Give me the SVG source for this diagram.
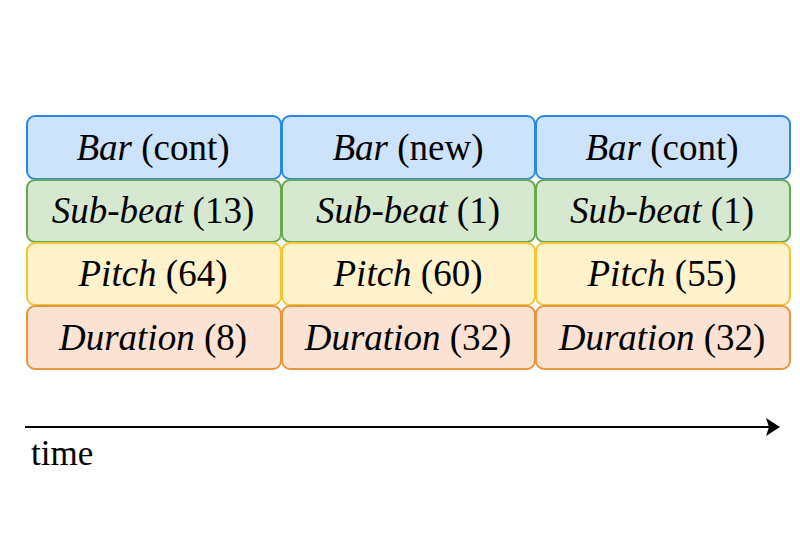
<svg xmlns="http://www.w3.org/2000/svg" width="800" height="533" viewBox="0 0 800 533">
<defs>
<style>
.t{font-family:"Liberation Serif","Times New Roman",serif;font-size:37px;fill:#000;text-anchor:middle}
.i{font-style:italic}
.bar{fill:#cde2fb;stroke:#2a88e6;stroke-width:2}
.sub{fill:#d7e8d1;stroke:#6aa84f;stroke-width:2}
.pit{fill:#fff2cc;stroke:#f0c53a;stroke-width:2}
.dur{fill:#fbe2d2;stroke:#e6963f;stroke-width:2}
</style>
<marker id="ah" markerWidth="14" markerHeight="18" refX="13" refY="9" orient="auto" markerUnits="userSpaceOnUse"><path d="M0,0 L14,9 L0,18 L3,9 Z" fill="#000"/></marker>
</defs>
<rect width="800" height="533" fill="#fff"/>
<g id="bar1"><rect class="bar" x="27" y="116" width="254" height="63" rx="8"/><text class="t" x="153" y="160"><tspan class="i">Bar</tspan> (cont)</text></g>
<g id="bar2"><rect class="bar" x="282" y="116" width="253" height="63" rx="8"/><text class="t" x="408" y="160"><tspan class="i">Bar</tspan> (new)</text></g>
<g id="bar3"><rect class="bar" x="536" y="116" width="254" height="63" rx="8"/><text class="t" x="662" y="160"><tspan class="i">Bar</tspan> (cont)</text></g>
<g id="sub1"><rect class="sub" x="27" y="180" width="254" height="62" rx="8"/><text class="t" x="153" y="223"><tspan class="i">Sub-beat</tspan> (13)</text></g>
<g id="sub2"><rect class="sub" x="282" y="180" width="253" height="62" rx="8"/><text class="t" x="408" y="223"><tspan class="i">Sub-beat</tspan> (1)</text></g>
<g id="sub3"><rect class="sub" x="536" y="180" width="254" height="62" rx="8"/><text class="t" x="662" y="223"><tspan class="i">Sub-beat</tspan> (1)</text></g>
<g id="pit1"><rect class="pit" x="27" y="243" width="254" height="62" rx="8"/><text class="t" x="153" y="286"><tspan class="i">Pitch</tspan> (64)</text></g>
<g id="pit2"><rect class="pit" x="282" y="243" width="253" height="62" rx="8"/><text class="t" x="408" y="286"><tspan class="i">Pitch</tspan> (60)</text></g>
<g id="pit3"><rect class="pit" x="536" y="243" width="254" height="62" rx="8"/><text class="t" x="662" y="286"><tspan class="i">Pitch</tspan> (55)</text></g>
<g id="dur1"><rect class="dur" x="27" y="306" width="254" height="63" rx="8"/><text class="t" x="153" y="350"><tspan class="i">Duration</tspan> (8)</text></g>
<g id="dur2"><rect class="dur" x="282" y="306" width="253" height="63" rx="8"/><text class="t" x="408" y="350"><tspan class="i">Duration</tspan> (32)</text></g>
<g id="dur3"><rect class="dur" x="536" y="306" width="254" height="63" rx="8"/><text class="t" x="662" y="350"><tspan class="i">Duration</tspan> (32)</text></g>
<g id="connectors"><line x1="25" y1="427" x2="779" y2="427" stroke="#000" stroke-width="2" marker-end="url(#ah)"/></g>
<g id="time-label"><text x="31" y="465" style="font-family:'Liberation Serif','Times New Roman',serif;font-size:35px;fill:#000">time</text></g>
</svg>
